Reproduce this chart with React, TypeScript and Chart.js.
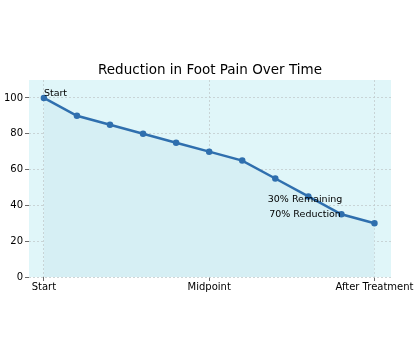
import React, { useEffect, useRef } from "react";
import { Chart, registerables } from "chart.js";

Chart.register(...registerables);

const stepIndex = [0, 1, 2, 3, 4, 5, 6, 7, 8, 9, 10];
const painLevel = [100, 90, 85, 80, 75, 70, 65, 55, 45, 35, 30];
const xTickPositions = [0, 5, 10];
const xTickLabels = ["Start", "Midpoint", "After Treatment"];
const yTicks = [0, 20, 40, 60, 80, 100];
const titleText = "Reduction in Foot Pain Over Time";
const notes = [
  { x: 0, y: 102.5, text: "Start", align: "left" },
  { x: 7.9, y: 43, text: "30% Remaining", align: "center" },
  { x: 7.9, y: 35, text: "70% Reduction", align: "center" },
];

const FONT = "'DejaVu Sans', sans-serif";

export default function App() {
  const ref = useRef<HTMLCanvasElement | null>(null);
  useEffect(() => {
    if (!ref.current) return;
    const bgPlugin = {
      id: "bg",
      beforeDraw(chart: any) {
        const { ctx, chartArea } = chart;
        ctx.save();
        ctx.fillStyle = "#e0f6f9";
        ctx.fillRect(chartArea.left, chartArea.top, chartArea.right - chartArea.left, chartArea.bottom - chartArea.top);
        ctx.restore();
      },
      afterDraw(chart: any) {
        const { ctx, scales } = chart;
        ctx.save();
        ctx.fillStyle = "#000";
        ctx.font = `13.5px ${FONT}`;
        ctx.textAlign = "center";
        ctx.textBaseline = "middle";
        ctx.fillText(titleText, 210, 70);
        ctx.font = `9.5px ${FONT}`;
        for (const n of notes) {
          ctx.textAlign = n.align as CanvasTextAlign;
          ctx.fillText(n.text, scales.x.getPixelForValue(n.x), scales.y.getPixelForValue(n.y));
        }
        ctx.restore();
      },
    };
    const gridOpts = {
      color: "#c2cccd",
      lineWidth: 0.8,
      tickColor: "#444",
      tickLength: 4,
      tickBorderDash: [],
      tickWidth: 0.8,
    };
    const chart = new Chart(ref.current, {
      type: "line",
      data: {
        datasets: [
          {
            data: stepIndex.map((x, i) => ({ x, y: painLevel[i] })),
            borderColor: "#2f6fae",
            backgroundColor: "#d6eff4",
            fill: "origin",
            borderWidth: 2.5,
            pointRadius: 2,
            pointBackgroundColor: "#2f6fae",
            pointBorderColor: "#2f6fae",
            tension: 0,
          },
        ],
      },
      options: {
        animation: false,
        responsive: false,
        layout: { padding: { top: 80, right: 29, left: 0, bottom: 0 } },
        plugins: { legend: { display: false }, title: { display: false }, tooltip: { enabled: false } },
        scales: {
          x: {
            type: "linear",
            min: -0.45,
            max: 10.5,
            afterBuildTicks: (s: any) => {
              s.ticks = xTickPositions.map((v) => ({ value: v }));
            },
            afterFit: (s: any) => {
              s.height = 78;
            },
            ticks: {
              autoSkip: false,
              maxRotation: 0,
              padding: 0,
              color: "#000",
              font: { family: FONT, size: 10 },
              callback: (v: any) => {
                const i = xTickPositions.indexOf(Number(v));
                return i >= 0 ? xTickLabels[i] : "";
              },
            },
            grid: gridOpts,
            border: { display: false, dash: [2, 2] },
          },
          y: {
            min: 0,
            max: 110,
            afterBuildTicks: (s: any) => {
              s.ticks = yTicks.map((v) => ({ value: v }));
            },
            afterFit: (s: any) => {
              s.width = 29;
            },
            ticks: {
              padding: 2,
              color: "#000",
              font: { family: FONT, size: 10 },
            },
            grid: gridOpts,
            border: { display: false, dash: [2, 2] },
          },
        },
      },
      plugins: [bgPlugin],
    } as any);
    return () => chart.destroy();
  }, []);
  return (
    <div style={{ position: "fixed", left: 0, top: 0, width: 420, height: 355, background: "#fff" }}>
      <canvas ref={ref} width={420} height={355} style={{ width: 420, height: 355 }} />
    </div>
  );
}
